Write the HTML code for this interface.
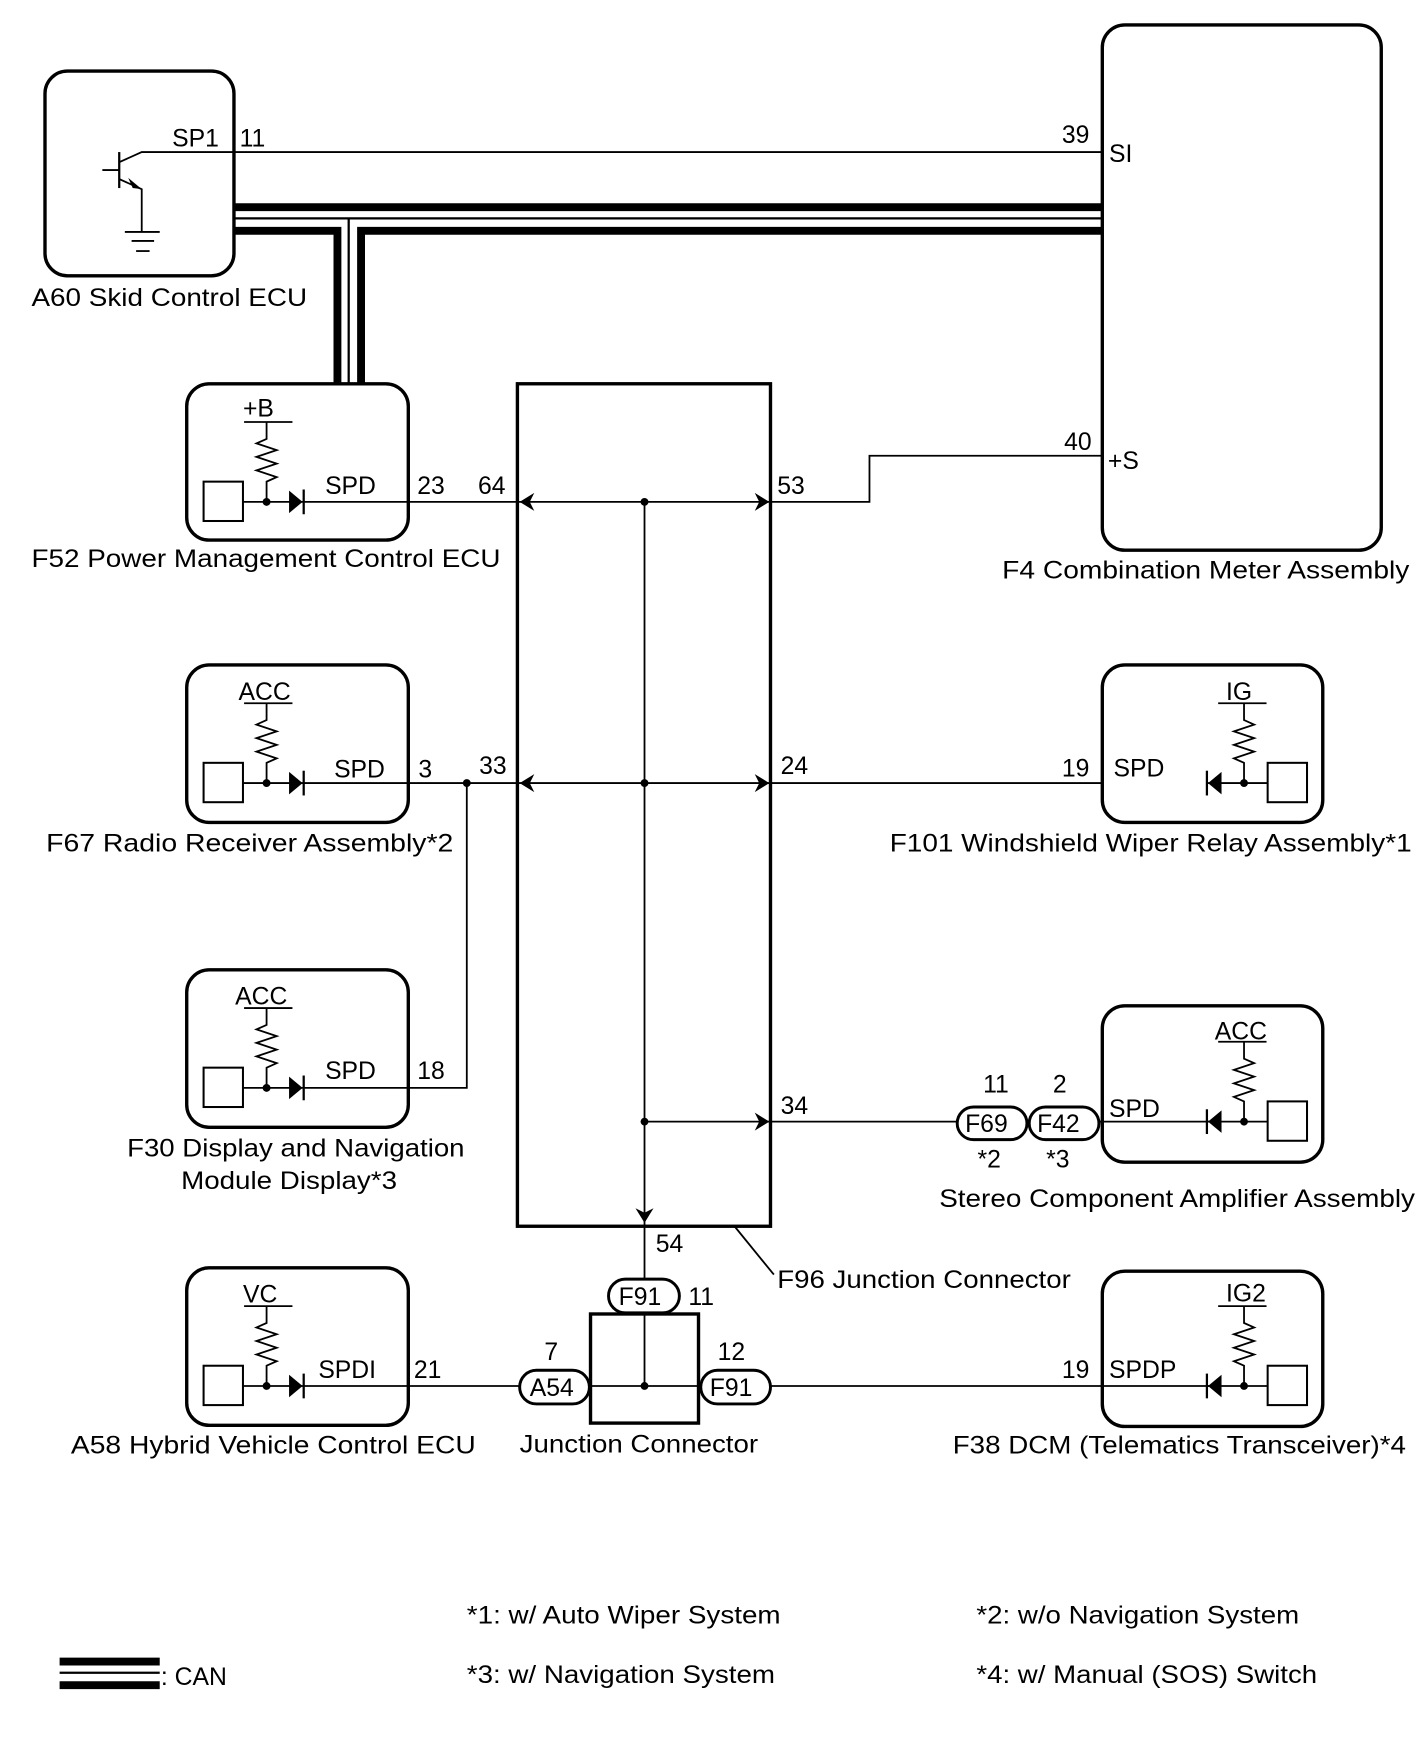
<!DOCTYPE html>
<html><head><meta charset="utf-8"><style>
html,body{margin:0;padding:0;background:#fff;}
svg{display:block;}
text{font-family:"Liberation Sans",Arial,sans-serif;font-size:22px;fill:#000;}
</style></head><body>
<svg width="1424" height="1763" viewBox="0 0 1266 1567" xmlns="http://www.w3.org/2000/svg">
<defs>
<g id="inL" fill="none" stroke="#000" stroke-width="1.6">
<rect x="181" y="-18" width="35" height="35" stroke-width="1.8"/>
<line x1="216" y1="0" x2="269" y2="0"/>
<polygon points="257,-10 269,0 257,10" fill="#000" stroke="none"/>
<line x1="270" y1="-11" x2="270" y2="11" stroke-width="2"/>
<circle cx="237" cy="0" r="3.5" fill="#000" stroke="none"/>
<path d="M237 0 V-18 L246 -22 L228 -28 L246 -34 L228 -40 L246 -46 L228 -52 L237 -56 V-71"/>
<line x1="217" y1="-71" x2="260" y2="-71"/>
</g>
<g id="arL"><polygon points="0,0 13,-8 9,0 13,8" fill="#000"/></g>
</defs>
<g fill="none" stroke="#000">
<rect x="40" y="63" width="168" height="182" rx="20" stroke-width="3"/>
<rect x="980" y="22" width="248" height="467" rx="20" stroke-width="3"/>
<rect x="166" y="341" width="197" height="139" rx="20" stroke-width="3"/>
<rect x="166" y="591" width="197" height="140" rx="20" stroke-width="3"/>
<rect x="166" y="862" width="197" height="140" rx="20" stroke-width="3"/>
<rect x="166" y="1127" width="197" height="140" rx="20" stroke-width="3"/>
<rect x="980" y="591" width="196" height="140" rx="20" stroke-width="3"/>
<rect x="980" y="894" width="196" height="139" rx="20" stroke-width="3"/>
<rect x="980" y="1130" width="196" height="138" rx="20" stroke-width="3"/>
<rect x="460" y="341" width="225" height="749" stroke-width="3"/>
<rect x="525" y="1168" width="96" height="97" stroke-width="3"/>
<rect x="851" y="984" width="62" height="29" rx="14.5" stroke-width="2.6"/>
<rect x="915" y="984" width="62" height="29" rx="14.5" stroke-width="2.6"/>
<rect x="541" y="1137" width="63" height="30" rx="15" stroke-width="2.6"/>
<rect x="462" y="1218" width="62" height="30" rx="15" stroke-width="2.6"/>
<rect x="623" y="1218" width="62" height="30" rx="15" stroke-width="2.6"/>
<g stroke-width="1.6">
<line x1="106" y1="135" x2="106" y2="167" stroke-width="2"/>
<line x1="91" y1="151" x2="106" y2="151"/>
<path d="M106 144 L126 135 H980"/>
<path d="M106 159 L126 168 V206"/>
<line x1="111" y1="206" x2="142" y2="206"/>
<line x1="117" y1="214" x2="137" y2="214"/>
<line x1="121" y1="223" x2="133" y2="223"/>
</g>
<polygon points="126,168 114,158 118,167" fill="#000" stroke="none"/>
<line x1="208" y1="184" x2="980" y2="184" stroke-width="7"/>
<line x1="208" y1="194" x2="980" y2="194" stroke-width="2"/>
<line x1="310" y1="194" x2="310" y2="341" stroke-width="2"/>
<path d="M208 205 H300 V341" stroke-width="7"/>
<path d="M980 205 H321 V341" stroke-width="7"/>
<g stroke-width="1.6">
<line x1="269" y1="446" x2="684" y2="446"/>
<path d="M684 446 H773 V405 H980"/>
<line x1="269" y1="696" x2="980" y2="696"/>
<path d="M415 696 V967 H269"/>
<line x1="573" y1="997" x2="851" y2="997"/>
<line x1="977" y1="997" x2="1080" y2="997"/>
<line x1="573" y1="446" x2="573" y2="1137"/>
<line x1="573" y1="1167" x2="573" y2="1232"/>
<line x1="269" y1="1232" x2="462" y2="1232"/>
<line x1="524" y1="1232" x2="623" y2="1232"/>
<line x1="685" y1="1232" x2="1080" y2="1232"/>
<line x1="653" y1="1090" x2="688" y2="1133"/>
<line x1="53" y1="1487" x2="142" y2="1487" stroke-width="2"/>
</g>
<line x1="53" y1="1477" x2="142" y2="1477" stroke-width="7"/>
<line x1="53" y1="1498" x2="142" y2="1498" stroke-width="7"/>
</g>
<g fill="#000">
<circle cx="573" cy="446" r="3.5"/><circle cx="573" cy="696" r="3.5"/>
<circle cx="573" cy="997" r="3.5"/><circle cx="573" cy="1232" r="3.5"/>
<circle cx="415" cy="696" r="3.5"/>
</g>
<use href="#arL" transform="translate(462,446)"/>
<use href="#arL" transform="translate(462,696)"/>
<use href="#arL" transform="translate(684,446) scale(-1,1)"/>
<use href="#arL" transform="translate(684,696) scale(-1,1)"/>
<use href="#arL" transform="translate(684,997) scale(-1,1)"/>
<use href="#arL" transform="translate(573,1087) rotate(-90)"/>
<use href="#inL" transform="translate(0,446)"/>
<use href="#inL" transform="translate(0,696)"/>
<use href="#inL" transform="translate(0,967)"/>
<use href="#inL" transform="translate(0,1232)"/>
<use href="#inL" transform="translate(1343,696) scale(-1,1)"/>
<use href="#inL" transform="translate(1343,997) scale(-1,1)"/>
<use href="#inL" transform="translate(1343,1232) scale(-1,1)"/>
<text x="153" y="130">SP1</text><text x="213" y="130">11</text>
<text x="28" y="272" textLength="245" lengthAdjust="spacingAndGlyphs">A60  Skid Control ECU</text>
<text x="944" y="127">39</text><text x="986" y="144">SI</text>
<text x="946" y="400">40</text><text x="985" y="417">+S</text>
<text x="891" y="514" textLength="362" lengthAdjust="spacingAndGlyphs">F4  Combination Meter Assembly</text>
<text x="216" y="370">+B</text><text x="289" y="439">SPD</text><text x="371" y="439">23</text><text x="425" y="439">64</text><text x="691" y="439">53</text>
<text x="28" y="504" textLength="417" lengthAdjust="spacingAndGlyphs">F52  Power Management Control ECU</text>
<text x="212" y="622">ACC</text><text x="297" y="691">SPD</text><text x="372" y="691">3</text><text x="426" y="688">33</text><text x="694" y="688">24</text>
<text x="41" y="757" textLength="362" lengthAdjust="spacingAndGlyphs">F67  Radio Receiver Assembly*2</text>
<text x="1090" y="622">IG</text><text x="944" y="690">19</text><text x="990" y="690">SPD</text>
<text x="791" y="757" textLength="464" lengthAdjust="spacingAndGlyphs">F101  Windshield Wiper Relay Assembly*1</text>
<text x="209" y="893">ACC</text><text x="289" y="959">SPD</text><text x="371" y="959">18</text>
<text x="113" y="1028" textLength="300" lengthAdjust="spacingAndGlyphs">F30 Display and Navigation</text>
<text x="161" y="1057" textLength="192" lengthAdjust="spacingAndGlyphs">Module Display*3</text>
<text x="1080" y="924">ACC</text><text x="986" y="993">SPD</text><text x="694" y="990">34</text>
<text x="858" y="1006" font-size="21">F69</text><text x="922" y="1006" font-size="21">F42</text>
<text x="874" y="971">11</text><text x="936" y="971">2</text><text x="869" y="1038">*2</text><text x="930" y="1038">*3</text>
<text x="835" y="1073" textLength="423" lengthAdjust="spacingAndGlyphs">Stereo Component Amplifier Assembly</text>
<text x="583" y="1113">54</text>
<text x="691" y="1145" textLength="261" lengthAdjust="spacingAndGlyphs">F96 Junction Connector</text>
<text x="550" y="1160" font-size="21">F91</text><text x="612" y="1160">11</text>
<text x="471" y="1241" font-size="21">A54</text><text x="484" y="1209">7</text>
<text x="631" y="1241" font-size="21">F91</text><text x="638" y="1209">12</text>
<text x="462" y="1291" textLength="212" lengthAdjust="spacingAndGlyphs">Junction Connector</text>
<text x="216" y="1158">VC</text><text x="283" y="1225">SPDI</text><text x="368" y="1225">21</text>
<text x="63" y="1292" textLength="360" lengthAdjust="spacingAndGlyphs">A58  Hybrid Vehicle Control ECU</text>
<text x="1090" y="1157">IG2</text><text x="944" y="1225">19</text><text x="986" y="1225">SPDP</text>
<text x="847" y="1292" textLength="403" lengthAdjust="spacingAndGlyphs">F38 DCM (Telematics Transceiver)*4</text>
<text x="415" y="1443" textLength="279" lengthAdjust="spacingAndGlyphs">*1: w/ Auto Wiper System</text>
<text x="868" y="1443" textLength="287" lengthAdjust="spacingAndGlyphs">*2: w/o Navigation System</text>
<text x="415" y="1496" textLength="274" lengthAdjust="spacingAndGlyphs">*3: w/ Navigation System</text>
<text x="868" y="1496" textLength="303" lengthAdjust="spacingAndGlyphs">*4: w/ Manual (SOS) Switch</text>
<text x="143" y="1498">: CAN</text>
</svg>
</body></html>
